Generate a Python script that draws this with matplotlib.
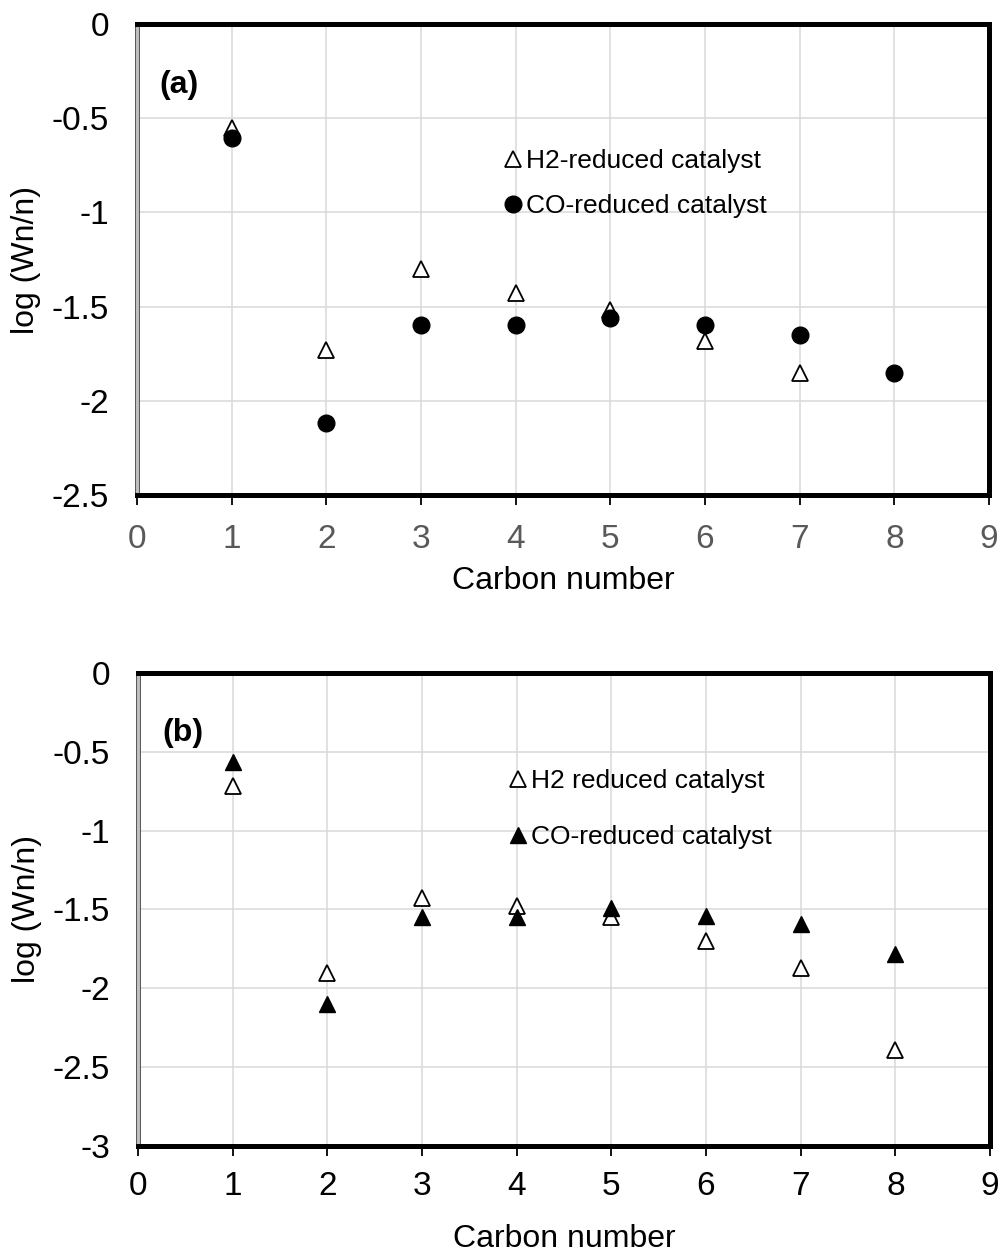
"""Two-panel scatter: log(Wn/n) vs carbon number for H2- and CO-reduced catalysts."""
import matplotlib
matplotlib.use("Agg")
import matplotlib.pyplot as plt
import matplotlib.patheffects as pe
import numpy as np

plt.rcParams["font.family"] = ["Liberation Sans", "DejaVu Sans"]

# panel (a)
carbon_a_h2 = [1, 2, 3, 4, 5, 6, 7]
logw_a_h2 = [-0.55, -1.73, -1.30, -1.43, -1.52, -1.68, -1.85]
carbon_a_co = [1, 2, 3, 4, 5, 6, 7, 8]
logw_a_co = [-0.605, -2.12, -1.60, -1.60, -1.56, -1.60, -1.65, -1.85]

# panel (b)
carbon_b = [1, 2, 3, 4, 5, 6, 7, 8]
logw_b_h2 = [-0.72, -1.90, -1.43, -1.475, -1.55, -1.70, -1.87, -2.39]
logw_b_co = [-0.565, -2.10, -1.55, -1.55, -1.49, -1.54, -1.59, -1.78]

xticks = list(range(0, 10))


def style_axes(ax, ymin, xtick_color, xpad, xlabelpad, xlabelsize):
    ax.set_xlim(0, 9)
    ax.set_ylim(ymin, 0)
    ax.set_xticks(xticks)
    yt = np.arange(ymin, 0.01, 0.5)
    ax.set_yticks(yt)
    ax.set_yticklabels([f"{v:g}" for v in yt], fontsize=24)
    ax.set_xticklabels([str(v) for v in xticks], fontsize=24, color=xtick_color)
    ax.grid(True, color="#d9d9d9", lw=1.1, zorder=0)
    ax.set_axisbelow(True)
    for s in ("top", "right", "bottom"):
        ax.spines[s].set_linewidth(3.6)
        ax.spines[s].set_color("black")
    ax.spines["left"].set_linewidth(2.0)
    ax.spines["left"].set_color("#c0c0c0")
    ax.spines["left"].set_path_effects([pe.withStroke(linewidth=3.4, foreground="#404040"),
                                        pe.Normal()])
    ax.tick_params(axis="y", length=0, pad=20)
    ax.tick_params(axis="x", direction="out", length=7, width=1.3, pad=xpad)
    ax.set_xlabel("Carbon number", fontsize=xlabelsize, labelpad=xlabelpad)
    ax.set_ylabel("log (Wn/n)", fontsize=23, labelpad=8)


fig = plt.figure(figsize=(10, 12.52), dpi=100)
ax1 = fig.add_axes([0.137, 0.6046, 0.852, 0.3762])
ax2 = fig.add_axes([0.138, 0.0847, 0.852, 0.3778])

# (a)
ax1.plot(carbon_a_h2, logw_a_h2, ls="none", marker="^", ms=12, mfc="white",
         mec="black", mew=1.3, label="H2-reduced catalyst", zorder=3)
ax1.plot(carbon_a_co, logw_a_co, ls="none", marker="o", ms=12, mfc="black",
         mec="black", label="CO-reduced catalyst", zorder=3)
style_axes(ax1, -2.5, "#595959", 14, 8, 23)
ax1.text(0.026, 0.87, "(a)", transform=ax1.transAxes, fontsize=23, fontweight="bold",
         ha="left", va="center")
ax1.legend(loc="center left", bbox_to_anchor=(0.432, 0.661), frameon=False, fontsize=19,
           numpoints=1, handlelength=0.6, handletextpad=0.2, labelspacing=0.78,
           borderpad=0, borderaxespad=0, markerscale=1.0)

# (b)
ax2.plot(carbon_b, logw_b_h2, ls="none", marker="^", ms=12, mfc="white",
         mec="black", mew=1.3, label="H2 reduced catalyst", zorder=3)
ax2.plot(carbon_b, logw_b_co, ls="none", marker="^", ms=12, mfc="black",
         mec="black", label="CO-reduced catalyst", zorder=3)
style_axes(ax2, -3.0, "black", 11, 16, 23)
ax2.text(0.029, 0.873, "(b)", transform=ax2.transAxes, fontsize=23, fontweight="bold",
         ha="left", va="center")
ax2.legend(loc="center left", bbox_to_anchor=(0.437, 0.7125), frameon=False, fontsize=19,
           numpoints=1, handlelength=0.6, handletextpad=0.2, labelspacing=1.2,
           borderpad=0, borderaxespad=0, markerscale=1.0)

fig.savefig("out.png", dpi=100)
